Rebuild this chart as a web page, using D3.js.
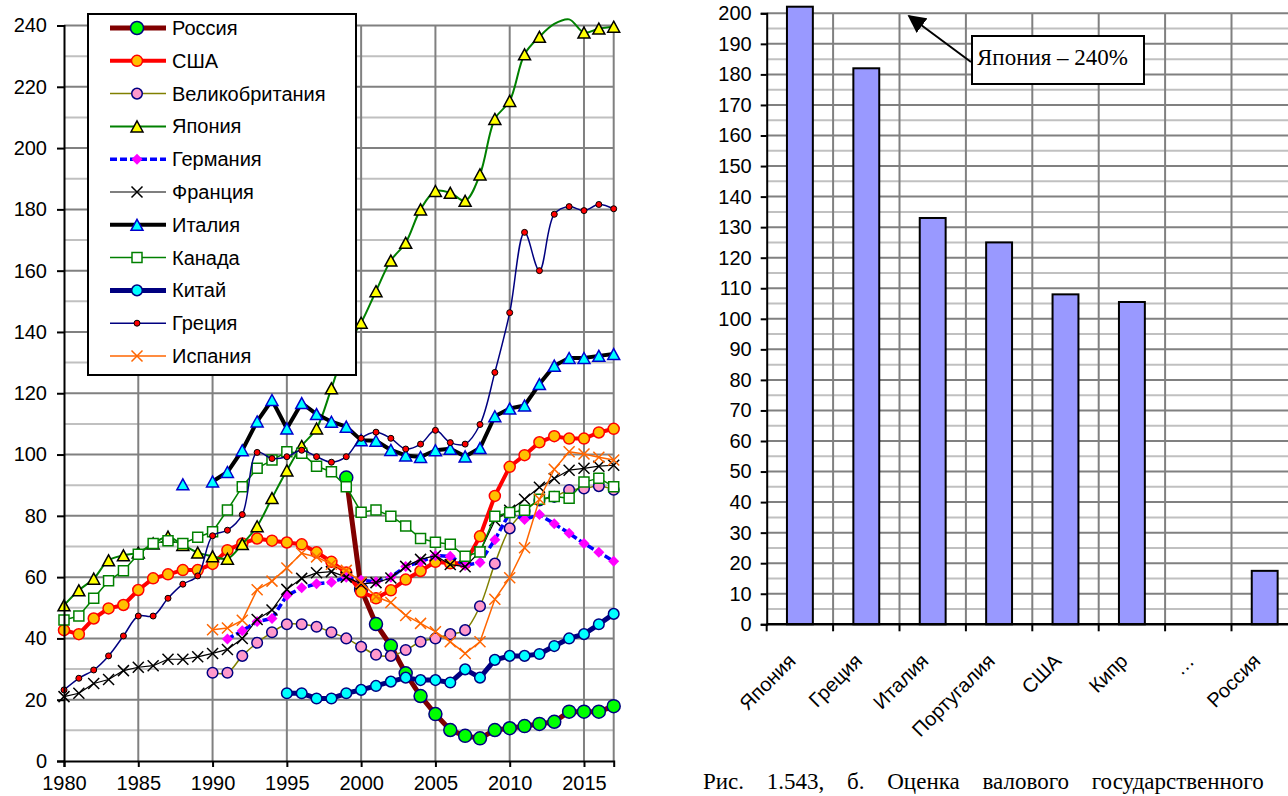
<!DOCTYPE html>
<html><head><meta charset="utf-8">
<script src="https://cdn.jsdelivr.net/npm/d3@7"></script>
<style>
body{margin:0;background:#fff;overflow:hidden;}
svg{display:block;}
text{font-family:Arial,"Liberation Sans",sans-serif;fill:#000;}
.serif{font-family:"Times New Roman","Liberation Serif",serif;}
</style>
</head><body>
<svg id="c" width="1288" height="796"></svg>
<script>
// ---------- DATA: left chart (government debt, % of GDP) ----------
const seriesNames = ['Россия','США','Великобритания','Япония','Германия','Франция','Италия','Канада','Китай','Греция','Испания'];
const xTickYears = [1980,1985,1990,1995,2000,2005,2010,2015];
const yTicksLeft = [0,20,40,60,80,100,120,140,160,180,200,220,240];

const russiaStart = 1999;
const russia = [92.5,56,44.7,37.6,28.6,21.2,15.3,10.1,8.2,7.4,10.1,10.7,11.4,12.1,12.8,16.1,16.1,16.1,17.9];
const usaStart = 1980;
const usa = [42.7,41.4,46.5,49.8,50.9,55.8,59.6,60.9,62.3,62.3,
             64.3,68.8,71.0,72.6,71.9,71.3,70.7,68.1,65.0,61.5,
             55.2,53.1,55.7,59.2,62,65,64.5,64.5,73.3,86.5,
             96.0,99.8,104.0,106.0,105.2,105.2,107.2,108.4];
const ukStart = 1990;
const uk = [28.8,28.8,34.3,38.6,42.0,44.6,44.6,43.8,42.0,40.0,
            37.3,34.7,34.3,36.2,38.9,40.0,41.4,42.7,50.5,64.4,
            75.9,81.5,85,86.2,88.4,88.9,89.7,88.5];
const japanStart = 1980;
const japan = [50.8,55.7,59.5,65.5,67.1,68,71,73.2,70.5,68,
               66.8,66,70.8,76.6,85.8,94.8,102.8,108.5,121.6,135.2,
               143.0,153.3,163.3,169.1,180.0,186.0,185.4,182.8,191.4,209.5,
               215.4,230.6,236.3,240.5,242,237.7,239,239.6];
const japanNoMarkerYears = [2013,2014];
const germanyStart = 1991;
const germany = [39.8,42.5,45.5,46.5,54,56.5,57.8,58.3,60,59,
                 58.5,60,63.5,65,67,66.8,63.8,64.8,72.2,81,
                 78.8,80.4,77.4,74.3,71.0,68.1,65.2];
const franceStart = 1980;
const france = [21.0,22.1,25.3,26.6,29.5,30.6,31.1,33.2,33.2,34.0,
                35.1,36.4,40.0,46.2,49.3,56.0,59.6,61.4,61.8,60.0,
                57.8,58.2,59.7,63.5,65.8,67.0,64.1,63.4,68.3,78.5,
                81.8,85.4,89.3,92.2,94.9,95.5,96.2,96.5];
const italyStart = 1988;
const italy = [90.3,null,91.2,94.3,101.4,110.8,117.8,108.5,116.8,113.2,110.7,109.1,
               104.7,104.5,101.5,99.7,99.2,101.4,101.9,99.4,102.1,112.5,
               115.0,116.0,123.0,129.0,131.5,131.5,132.2,132.8];
const canadaStart = 1980;
const canada = [46.0,47.3,53.1,58.8,62.1,67.5,71.0,71.9,71.0,73.0,
                74.8,81.9,89.5,95.5,98.2,100.9,100.4,96.2,94.4,89.5,
                81.2,81.9,79.9,76.7,72.6,71.4,70.7,66.8,68.2,79.9,
                81.1,81.8,85.4,86.3,85.7,91.0,92.3,89.5];
const chinaStart = 1995;
const china = [22.1,22.1,20.4,20.4,22.1,
               23.2,24.5,25.9,27.2,26.4,26.4,25.6,29.9,27.2,33.0,
               34.3,34.3,34.9,37.5,40.0,41.4,44.6,48.0];
const greeceStart = 1980;
const greece = [23.2,27.0,29.7,34.3,40.8,47.3,47.3,53.1,57.7,60.4,
                73.5,75.3,80.4,100.7,98.7,99.3,101.4,99.3,97.5,99.3,
                105.3,107.3,105.3,101.8,103.4,107.9,103.9,103.4,109.8,126.8,
                146.3,172.5,160.0,178.4,180.9,179.6,181.6,180.2];
const spainStart = 1990;
const spain = [42.8,43.4,45.9,55.9,58.7,63.0,67.8,66.6,64.2,62.2,
               58.3,53.6,51.7,47.5,44.9,42.2,38.9,35.1,38.9,52.8,
               59.8,69.6,85.4,95.2,100.9,100.2,99.1,98.2];

// ---------- DATA: right chart ----------
const barCategories = ['Япония','Греция','Италия','Португалия','США','Кипр','…','Россия'];
const barValues = [240,182,133,125,108,105.5,null,17.5];
const yTicksRight = d3.range(0,201,10);
const annotationText = 'Япония – 240%';
const captionText = 'Рис. 1.543, б. Оценка валового государственного';

// ---------- styles ----------
const styles = {
 'Россия':        {line:'#800000', lw:5,   mk:'circle',   r:6.5, fill:'#00ff00', stroke:'#000080', sw:1.5},
 'США':           {line:'#ff0000', lw:4,   mk:'circle',   r:5.5, fill:'#ffc000', stroke:'#ff0000', sw:1.5},
 'Великобритания':{line:'#808000', lw:1.5, mk:'circle',   r:5.3, fill:'#ff99cc', stroke:'#000080', sw:1.5, smooth:true},
 'Япония':        {line:'#008000', lw:2,   mk:'triangle', fill:'#ffff00', stroke:'#000', sw:1.5, smooth:true},
 'Германия':      {line:'#0000ff', lw:3.5, dash:'7,3', mk:'diamond', fill:'#ff00ff', stroke:'none', sw:0},
 'Франция':       {line:'#000',    lw:1.2, mk:'x',        fill:'none', stroke:'#000', sw:1.5},
 'Италия':        {line:'#000',    lw:4,   mk:'triangle', fill:'#00ffff', stroke:'#0000cc', sw:1.5},
 'Канада':        {line:'#008000', lw:1.5, mk:'square',   fill:'#fff', stroke:'#008000', sw:1.5},
 'Китай':         {line:'#000080', lw:5,   mk:'circle',   r:5.3, fill:'#00ffff', stroke:'#000080', sw:1.5},
 'Греция':        {line:'#000080', lw:1.5, mk:'circle',   r:3, fill:'#ff0000', stroke:'#000', sw:1, smooth:true},
 'Испания':       {line:'#ff6600', lw:1.5, mk:'x',        fill:'none', stroke:'#ff6600', sw:1.5}
};

const seriesData = {
 'Россия':[russiaStart,russia], 'США':[usaStart,usa], 'Великобритания':[ukStart,uk],
 'Япония':[japanStart,japan], 'Германия':[germanyStart,germany], 'Франция':[franceStart,france],
 'Италия':[italyStart,italy], 'Канада':[canadaStart,canada], 'Китай':[chinaStart,china],
 'Греция':[greeceStart,greece], 'Испания':[spainStart,spain]
};
const noMarker = {'Япония': japanNoMarkerYears};

const svg = d3.select('#c');

// ================= LEFT CHART =================
const xL = d3.scaleLinear().domain([1980,2017]).range([64,613.7]);
const yL = d3.scaleLinear().domain([0,240]).range([761,25.5]);
const gL = svg.append('g');

gL.selectAll('line.minor').data(d3.range(10,240,20)).join('line')
  .attr('x1',xL(1980)).attr('x2',xL(2017)).attr('y1',d=>yL(d)).attr('y2',d=>yL(d))
  .attr('stroke','#c0c0c0').attr('stroke-width',2);
gL.selectAll('line.major').data(d3.range(20,241,20)).join('line')
  .attr('x1',xL(1980)).attr('x2',xL(2017)).attr('y1',d=>yL(d)).attr('y2',d=>yL(d))
  .attr('stroke','#808080').attr('stroke-width',2);
gL.selectAll('line.vgrid').data([1985,1990,1995,2000,2005,2010,2015,2017]).join('line')
  .attr('x1',d=>xL(d)).attr('x2',d=>xL(d)).attr('y1',yL(0)).attr('y2',yL(240))
  .attr('stroke','#808080').attr('stroke-width',2);

function markerPath(type){
  switch(type){
    case 'triangle': return 'M0,-5.5L6,5.5L-6,5.5Z';
    case 'diamond': return 'M0,-5.5L5.5,0L0,5.5L-5.5,0Z';
    case 'x': return 'M-5.5,-5.5L5.5,5.5M5.5,-5.5L-5.5,5.5';
    case 'square': return 'M-5,-5H5V5H-5Z';
  }
}
function drawMarker(g, st, cx, cy){
  if(st.mk==='circle'){
    g.append('circle').attr('cx',cx).attr('cy',cy).attr('r',st.r)
      .attr('fill',st.fill).attr('stroke',st.stroke).attr('stroke-width',st.sw);
  } else {
    g.append('path').attr('d',markerPath(st.mk)).attr('transform',`translate(${cx},${cy})`)
      .attr('fill',st.fill).attr('stroke',st.stroke).attr('stroke-width',st.sw);
  }
}

seriesNames.forEach(name=>{
  const st = styles[name];
  const [start, vals] = seriesData[name];
  const pts = vals.map((v,i)=>({year:start+i, value:v}));
  const g = gL.append('g');
  const line = d3.line().defined(d=>d.value!=null).x(d=>xL(d.year)).y(d=>yL(d.value))
    .curve(st.smooth ? d3.curveCatmullRom.alpha(0.5) : d3.curveLinear);
  g.append('path').attr('d',line(pts)).attr('fill','none').attr('stroke',st.line)
    .attr('stroke-width',st.lw).attr('stroke-linejoin','round')
    .attr('stroke-dasharray',st.dash||null);
  const skip = noMarker[name] || [];
  pts.filter(d=>d.value!=null && !skip.includes(d.year)).forEach(d=>drawMarker(g, st, xL(d.year), yL(d.value)));
});

// axes
const axL = gL.append('g').attr('transform',`translate(${xL(1980)},0)`)
  .call(d3.axisLeft(yL).tickValues(yTicksLeft).tickSize(7).tickPadding(10));
axL.select('.domain').attr('stroke','#000').attr('stroke-width',2);
axL.selectAll('.tick line').attr('stroke','#000').attr('stroke-width',2);
axL.selectAll('text').style('font-size','20px').attr('font-family',null);

const axB = gL.append('g').attr('transform',`translate(0,${yL(0)})`)
  .call(d3.axisBottom(xL).tickValues(xTickYears).tickFormat(d3.format('d')).tickSize(6).tickPadding(9));
axB.select('.domain').attr('stroke','#000').attr('stroke-width',2);
axB.selectAll('.tick line').attr('stroke','#000').attr('stroke-width',2);
axB.selectAll('text').style('font-size','20px').attr('font-family',null);

// legend
const lg = svg.append('g');
lg.append('rect').attr('x',88).attr('y',14).attr('width',268).attr('height',361)
  .attr('fill','#fff').attr('stroke','#000').attr('stroke-width',2);
seriesNames.forEach((name,i)=>{
  const st = styles[name];
  const cy = 28 + i*32.8;
  lg.append('line').attr('x1',110).attr('x2',166).attr('y1',cy).attr('y2',cy)
    .attr('stroke',st.line).attr('stroke-width',st.lw).attr('stroke-dasharray',st.dash||null);
  drawMarker(lg, st, 137, cy);
  lg.append('text').attr('x',172).attr('y',cy+7).style('font-size','20px').text(name);
});

// ================= RIGHT CHART =================
const xR = d3.scaleBand().domain(barCategories).range([766.7, 766.7+8*66.4])
  .paddingInner(0.61).paddingOuter(0.305);
const yR = d3.scaleLinear().domain([0,200]).range([624.3,13.3]);
const gR = svg.append('g');
const xr0 = xR.range()[0], xr1 = xR.range()[1];
const step = xR.step();

gR.selectAll('line.rminor').data(d3.range(5,200,10)).join('line')
  .attr('x1',xr0).attr('x2',xr1).attr('y1',d=>yR(d)).attr('y2',d=>yR(d))
  .attr('stroke','#c0c0c0').attr('stroke-width',2);
gR.selectAll('line.rmajor').data(d3.range(10,201,10)).join('line')
  .attr('x1',xr0).attr('x2',xr1).attr('y1',d=>yR(d)).attr('y2',d=>yR(d))
  .attr('stroke','#808080').attr('stroke-width',2);
gR.selectAll('line.rv').data(d3.range(1,9)).join('line')
  .attr('x1',d=>xr0+d*step).attr('x2',d=>xr0+d*step).attr('y1',yR(0)).attr('y2',yR(200))
  .attr('stroke','#808080').attr('stroke-width',2);

const barTopLimit = yR(200) - 6.6;
gR.selectAll('rect.bar').data(barCategories.map((c,i)=>({c, v:barValues[i]})).filter(d=>d.v!=null))
  .join('rect')
  .attr('x',d=>xR(d.c)).attr('width',xR.bandwidth())
  .attr('y',d=>Math.max(yR(d.v), barTopLimit))
  .attr('height',d=>yR(0)-Math.max(yR(d.v), barTopLimit))
  .attr('fill','#9999ff').attr('stroke','#000').attr('stroke-width',2);

const axR = gR.append('g').attr('transform',`translate(${xr0},0)`)
  .call(d3.axisLeft(yR).tickValues(yTicksRight).tickSize(6).tickPadding(9));
axR.select('.domain').attr('stroke','#000').attr('stroke-width',2);
axR.selectAll('.tick line').attr('stroke','#000').attr('stroke-width',2);
axR.selectAll('text').style('font-size','20px').attr('font-family',null);

// bottom axis line and ticks at band boundaries
gR.append('line').attr('x1',xr0).attr('x2',xr1).attr('y1',yR(0)).attr('y2',yR(0))
  .attr('stroke','#000').attr('stroke-width',2.5);
gR.selectAll('line.rtick').data(d3.range(0,9)).join('line')
  .attr('x1',d=>xr0+d*step).attr('x2',d=>xr0+d*step).attr('y1',yR(0)).attr('y2',yR(0)+7)
  .attr('stroke','#000').attr('stroke-width',2);
gR.selectAll('text.cat').data(barCategories).join('text')
  .attr('transform',d=>`translate(${xR(d)+xR.bandwidth()/2-3},${yR(0)+38}) rotate(-45)`)
  .attr('text-anchor','end').style('font-size','20px').text(d=>d);

// annotation
const ann = gR.append('g');
ann.append('defs').append('marker').attr('id','arr').attr('viewBox','0 0 10 10')
  .attr('refX',9).attr('refY',5).attr('markerWidth',9).attr('markerHeight',9).attr('orient','auto-start-reverse')
  .append('path').attr('d','M0,0L10,5L0,10Z').attr('fill','#000');
ann.append('line').attr('x1',971).attr('y1',62).attr('x2',909).attr('y2',16)
  .attr('stroke','#000').attr('stroke-width',2).attr('marker-end','url(#arr)');
ann.append('rect').attr('x',972).attr('y',36).attr('width',172).attr('height',48)
  .attr('fill','#fff').attr('stroke','#000').attr('stroke-width',2);
ann.append('text').attr('class','serif').attr('x',977).attr('y',65).style('font-size','23px').text(annotationText);

// caption
svg.append('text').attr('class','serif').attr('x',703).attr('y',789)
  .style('font-size','23px').style('word-spacing','17px').text(captionText);
</script>
</body></html>
